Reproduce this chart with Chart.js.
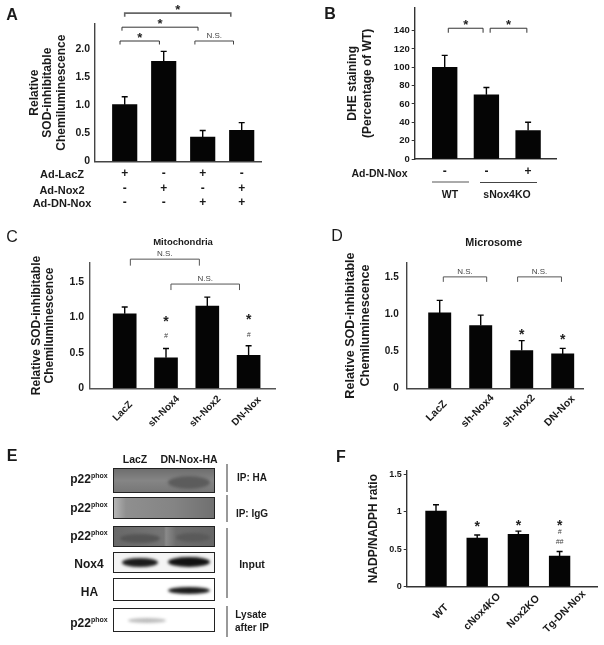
<!DOCTYPE html>
<html>
<head>
<meta charset="utf-8">
<script src="https://cdn.jsdelivr.net/npm/chart.js@4"></script>
<style>
  html, body { margin: 0; padding: 0; background: #fff; }
  #fig { position: relative; width: 604px; height: 645px; overflow: hidden; filter: blur(0.45px);
         font-family: "Liberation Sans", Arial, sans-serif; color: #1a1a1a; }
  #fig canvas { position: absolute; }
  .t { position: absolute; white-space: nowrap; transform: translate(-50%, -50%); font-weight: bold; }
  .l { position: absolute; background: #333; }
  .blot { position: absolute; left: 113px; width: 102px; box-sizing: border-box; border: 1px solid #222; overflow: hidden; }
  .band { position: absolute; border-radius: 50%; filter: blur(1.5px); }
  sup { font-size: 7px; line-height: 0; }
</style>
</head>
<body>
<div id="fig"></div>
<script>
// Panel A
const aValues = [1.01, 1.78, 0.43, 0.55];
const aErrors = [0.14, 0.18, 0.12, 0.14];
const aLacZ = ["+", "-", "+", "-"];
const aNox2 = ["-", "+", "-", "+"];
const aDnNox = ["-", "-", "+", "+"];
const aYTicks = [0, 0.5, 1, 1.5, 2];
const aYLabels = ["0", "0.5", "1.0", "1.5", "2.0"];

// Panel B
const bValues = [100, 70, 31];
const bErrors = [13, 8, 9];
const bDnNox = ["-", "-", "+"];
const bYTicks = [0, 20, 40, 60, 80, 100, 120, 140];

// Panel C
const cCategories = ["LacZ", "sh-Nox4", "sh-Nox2", "DN-Nox"];
const cValues = [1.05, 0.43, 1.16, 0.465];
const cErrors = [0.095, 0.13, 0.125, 0.135];
const cYTicks = [0, 0.5, 1, 1.5];
const cYLabels = ["0", "0.5", "1.0", "1.5"];

// Panel D
const dCategories = ["LacZ", "sh-Nox4", "sh-Nox2", "DN-Nox"];
const dValues = [1.02, 0.85, 0.51, 0.465];
const dErrors = [0.17, 0.14, 0.135, 0.075];
const dYTicks = [0, 0.5, 1, 1.5];
const dYLabels = ["0", "0.5", "1.0", "1.5"];

// Panel F
const fCategories = ["WT", "cNox4KO", "Nox2KO", "Tg-DN-Nox"];
const fValues = [1.01, 0.65, 0.70, 0.41];
const fErrors = [0.085, 0.04, 0.043, 0.06];
const fYTicks = [0, 0.5, 1, 1.5];
const fYLabels = ["0", "0.5", "1", "1.5"];

const fig = document.getElementById("fig");
const FONT = '"Liberation Sans", Arial, sans-serif';
const BLACK = "#050505";

// error bars, significance brackets and marks, all placed through the scales
const extras = {
  id: "extras",
  beforeDraw(chart, args, opts) {
    // the slanted labels sit centred under their bars, not end-aligned like Chart.js does
    if (!opts.slant) return;
    const x = chart.scales.x;
    x.getLabelItems().forEach((item, i) => {
      item.textOffset = 0;
      item.options.textAlign = "center";
      item.options.textBaseline = "middle";
      item.options.translation = [x.getPixelForValue(i) + opts.slant[0], x.top + opts.slant[1]];
    });
  },
  afterDatasetsDraw(chart, args, opts) {
    const { ctx } = chart;
    const x = chart.scales.x, y = chart.scales.y;
    ctx.save();
    ctx.strokeStyle = BLACK;
    ctx.lineWidth = 1.4;
    opts.values.forEach((v, i) => {
      const px = x.getPixelForValue(i);
      const top = y.getPixelForValue(v + opts.errors[i]);
      ctx.beginPath();
      ctx.moveTo(px, y.getPixelForValue(v));
      ctx.lineTo(px, top);
      ctx.moveTo(px - 3, top);
      ctx.lineTo(px + 3, top);
      ctx.stroke();
    });
    (opts.brackets || []).forEach((b) => {
      const x0 = x.getPixelForValue(b.from), x1 = x.getPixelForValue(b.to);
      const py = y.getPixelForValue(b.y);
      ctx.strokeStyle = b.color || "#333";
      ctx.lineWidth = b.width || 1;
      ctx.beginPath();
      ctx.moveTo(x0, py + (b.drop || 3.5));
      ctx.lineTo(x0, py);
      ctx.lineTo(x1, py);
      ctx.lineTo(x1, py + (b.drop || 3.5));
      ctx.stroke();
      ctx.textAlign = "center";
      ctx.textBaseline = "middle";
      if (b.text === "*") {
        ctx.fillStyle = "#222";
        ctx.font = "bold 13px " + FONT;
        ctx.fillText("*", (x0 + x1) / 2, py - 2.5);
      } else {
        ctx.fillStyle = "#444";
        ctx.font = "8px " + FONT;
        ctx.fillText(b.text, (x0 + x1) / 2, py - 5);
      }
    });
    (opts.marks || []).forEach((m) => {
      const px = x.getPixelForValue(m.bar), py = y.getPixelForValue(m.y);
      ctx.textAlign = "center";
      ctx.textBaseline = "middle";
      if (m.text === "*") {
        ctx.fillStyle = "#222";
        ctx.font = "bold 14px " + FONT;
        ctx.fillText("*", px, py + 3);
      } else {
        ctx.fillStyle = "#444";
        ctx.font = "italic 7px " + FONT;
        ctx.fillText(m.text, px, py);
      }
    });
    ctx.restore();
  },
};

function makePanel(p) {
  const c = document.createElement("canvas");
  c.style.left = p.box[0] + "px";
  c.style.top = p.box[1] + "px";
  c.width = p.box[2];
  c.height = p.box[3];
  fig.appendChild(c);
  const step = p.step;
  new Chart(c, {
    type: "bar",
    data: {
      datasets: [{
        data: p.values.map((v, i) => ({ x: i, y: v })),
        backgroundColor: BLACK,
        barThickness: p.barWidth,
      }],
    },
    plugins: [extras],
    options: {
      responsive: false,
      animation: false,
      layout: { padding: { top: p.plot.top - p.box[1], right: p.box[0] + p.box[2] - p.plot.right } },
      plugins: {
        legend: { display: false },
        tooltip: { enabled: false },
        extras: { values: p.values, errors: p.errors, brackets: p.brackets, marks: p.marks, slant: p.slant },
      },
      scales: {
        x: {
          type: "linear",
          offset: false,
          min: -(p.firstBar - p.plot.left) / step,
          max: (p.plot.right - p.firstBar) / step,
          afterBuildTicks: (s) => { s.ticks = p.values.map((_, i) => ({ value: i })); },
          afterFit: (s) => { s.height = p.box[1] + p.box[3] - p.plot.base; },
          border: { color: p.axisColor || "#333", width: 1.4 },
          grid: { drawOnChartArea: false, drawTicks: false, offset: false },
          ticks: {
            autoSkip: false,
            color: "#1a1a1a",
            minRotation: p.slant ? 45 : 0,
            maxRotation: p.slant ? 45 : 0,
            padding: p.xPad,
            font: { family: FONT, weight: "bold", size: p.xFont, lineHeight: p.xLine || 1.2 },
            callback: (v, i) => p.xLabels(i),
          },
        },
        y: {
          min: 0,
          max: p.yMax,
          afterBuildTicks: (s) => { s.ticks = p.yTicks.map((t) => ({ value: t })); },
          afterFit: (s) => { s.width = p.plot.left - p.box[0]; },
          border: { color: p.axisColor || "#333", width: 1.4 },
          grid: { drawOnChartArea: false, drawTicks: !!p.yTickLen, tickLength: p.yTickLen || 0, color: "#333" },
          ticks: {
            autoSkip: false,
            color: "#1a1a1a",
            padding: p.yPad,
            font: { family: FONT, weight: "bold", size: p.yFont },
            callback: (v, i) => p.yLabels[i],
          },
          title: {
            display: true,
            text: p.title,
            color: "#1a1a1a",
            padding: { top: p.titleX - p.box[0] - p.titleLine / 2, bottom: 0 },
            font: { family: FONT, weight: "bold", size: p.titleFont, lineHeight: p.titleLine + "px" },
          },
        },
      },
    },
  });
}

makePanel({
  box: [0, 0, 300, 218],
  plot: { left: 95, right: 261, top: 24, base: 161.3 },
  firstBar: 124.7, step: 39, barWidth: 24.5,
  values: aValues, errors: aErrors,
  yMax: 2.447, yTicks: aYTicks, yLabels: aYLabels, yPad: 5, yFont: 10.5,
  xLabels: (i) => [aLacZ[i], aNox2[i], aDnNox[i]], xFont: 12, xLine: 1.2, xPad: 5.5,
  axisColor: "#444",
  title: ["Relative", "SOD-inhibitable", "Chemiluminescence"], titleX: 34.5, titleLine: 13.4, titleFont: 12,
  brackets: [
    { from: -0.12, to: 0.89, y: 2.144, text: "*" },
    { from: 1.8, to: 2.79, y: 2.144, text: "N.S.", color: "#444" },
    { from: -0.07, to: 1.88, y: 2.39, text: "*" },
    { from: 0, to: 2.72, y: 2.64, text: "*", color: "#666", width: 1.6 },
  ],
});

makePanel({
  box: [300, 0, 304, 218],
  plot: { left: 414.7, right: 556, top: 7, base: 159 },
  firstBar: 444.7, step: 41.7, barWidth: 24.7,
  values: bValues, errors: bErrors,
  yMax: 165, yTicks: bYTicks, yLabels: bYTicks.map(String), yPad: 2, yFont: 9.5, yTickLen: 3,
  xLabels: (i) => bDnNox[i], xFont: 12, xPad: 5.5,
  axisColor: "#333",
  title: ["DHE staining", "(Percentage of WT)"], titleX: 353, titleLine: 15, titleFont: 12,
  brackets: [
    { from: 0.086, to: 0.92, y: 142.6, text: "*", drop: 4.5 },
    { from: 1.09, to: 1.97, y: 142.6, text: "*", drop: 4.5 },
  ],
});

makePanel({
  box: [0, 218, 300, 218],
  plot: { left: 90, right: 275, top: 262.7, base: 388.3 },
  firstBar: 124.7, step: 41.3, barWidth: 23,
  values: cValues, errors: cErrors,
  yMax: 1.77, yTicks: cYTicks, yLabels: cYLabels, yPad: 6, yFont: 10.5,
  xLabels: (i) => cCategories[i], xFont: 10, xPad: 4, slant: [-2, 23],
  axisColor: "#555",
  title: ["Relative SOD-inhibitable", "Chemiluminescence"], titleX: 37, titleLine: 13, titleFont: 12,
  brackets: [
    { from: 0.137, to: 1.808, y: 1.82, text: "N.S.", color: "#555", drop: 6.5 },
    { from: 1.12, to: 2.78, y: 1.469, text: "N.S.", color: "#555", drop: 6 },
  ],
  marks: [
    { bar: 1, y: 0.97, text: "*" }, { bar: 1, y: 0.73, text: "#" },
    { bar: 3, y: 1.0, text: "*" }, { bar: 3, y: 0.75, text: "#" },
  ],
});

makePanel({
  box: [300, 218, 304, 218],
  plot: { left: 406.7, right: 583, top: 262.7, base: 388.3 },
  firstBar: 439.7, step: 41, barWidth: 22.3,
  values: dValues, errors: dErrors,
  yMax: 1.7, yTicks: dYTicks, yLabels: dYLabels, yPad: 8, yFont: 10,
  xLabels: (i) => dCategories[i], xFont: 10.5, xPad: 4, slant: [-3, 22.7],
  axisColor: "#444",
  title: ["Relative SOD-inhibitable", "Chemiluminescence"], titleX: 351, titleLine: 14.5, titleFont: 12.6,
  brackets: [
    { from: 0.088, to: 1.146, y: 1.508, text: "N.S.", color: "#555", drop: 5 },
    { from: 1.9, to: 2.97, y: 1.508, text: "N.S.", color: "#555", drop: 5 },
  ],
  marks: [{ bar: 2, y: 0.766, text: "*" }, { bar: 3, y: 0.69, text: "*" }],
});

makePanel({
  box: [300, 440, 304, 205],
  plot: { left: 406.7, right: 597, top: 470.7, base: 586.7 },
  firstBar: 436, step: 41.2, barWidth: 20.7,
  values: fValues, errors: fErrors,
  yMax: 1.55, yTicks: fYTicks, yLabels: fYLabels, yPad: 2, yFont: 9, yTickLen: 3,
  xLabels: (i) => fCategories[i], xFont: 10.5, xPad: 4, slant: [5, 25],
  axisColor: "#333",
  title: ["NADP/NADPH ratio"], titleX: 374, titleLine: 13, titleFont: 12,
  marks: [
    { bar: 1, y: 0.837, text: "*" }, { bar: 2, y: 0.845, text: "*" }, { bar: 3, y: 0.845, text: "*" },
    { bar: 3, y: 0.734, text: "#" }, { bar: 3, y: 0.6, text: "##" },
  ],
});

// free text on top of the charts: [text, x, y, size, weight]
const labels = [
  ["A", 12, 15, 16, "bold"], ["B", 330, 14, 16, "bold"], ["C", 12, 236.7, 16, "normal"],
  ["D", 337, 235.7, 16, "normal"], ["E", 12, 455.7, 16, "bold"], ["F", 341, 456.7, 16, "bold"],
  ["Ad-LacZ", 62, 174.3, 11, "bold"], ["Ad-Nox2", 62, 189.7, 11, "bold"], ["Ad-DN-Nox", 62, 203, 11, "bold"],
  ["Ad-DN-Nox", 379.5, 173.3, 10.5, "bold"], ["WT", 450, 194, 10.5, "bold"], ["sNox4KO", 507, 194, 10.5, "bold"],
  ["Mitochondria", 183, 240.7, 9.5, "bold"], ["Microsome", 493.7, 241.7, 10.8, "bold"],
  ["LacZ", 135, 459, 10.5, "bold"], ["DN-Nox-HA", 189, 459, 10.5, "bold"],
  ["Nox4", 89, 564, 12, "bold"], ["HA", 89.5, 591.7, 12, "bold"],
  ["IP: HA", 252, 476.7, 10, "bold"], ["IP: IgG", 252, 512.7, 10, "bold"], ["Input", 252, 564, 10.5, "bold"],
  ["Lysate", 251, 614, 10, "bold"], ["after IP", 252, 627, 10, "bold"],
];
labels.forEach(([text, x, y, size, weight]) => {
  const d = document.createElement("div");
  d.className = "t";
  d.textContent = text;
  d.style.cssText = `left:${x}px;top:${y}px;font-size:${size}px;font-weight:${weight}`;
  fig.appendChild(d);
});

[479, 508, 535.7, 623].forEach((y) => {
  const d = document.createElement("div");
  d.className = "t";
  d.innerHTML = "p22<sup>phox</sup>";
  d.style.cssText = `left:89px;top:${y}px;font-size:12px`;
  fig.appendChild(d);
});

// group rules under panel B and the bracket rules beside the blots: [x, y, w, h, colour]
const rules = [
  [432, 181, 37, 2.2, "#aaa"], [480, 181.5, 57, 1.2, "#444"],
  [226, 464, 1.6, 28, "#999"], [226, 495, 1.6, 27, "#999"], [226, 528, 1.6, 70, "#999"], [226, 606, 1.6, 31, "#999"],
];
rules.forEach(([x, y, w, h, col]) => {
  const d = document.createElement("div");
  d.className = "l";
  d.style.cssText = `left:${x}px;top:${y}px;width:${w}px;height:${h}px;background:${col}`;
  fig.appendChild(d);
});

// panel E blots: [top, height, background, bands [left, top, w, h, colour]]
const blots = [
  [468, 25, "linear-gradient(#6e6e6e,#858585 50%,#777)", [[54, 7, 42, 13, "#5c5c5c"]]],
  [497, 22, "linear-gradient(90deg,#b5b5b5,#8f8f8f 12%,#848484 60%,#707070)", []],
  [526, 21, "linear-gradient(90deg,#686868,#757575 50%,#8a8a8a 52%,#6d6d6d 62%,#666)", [[6, 7, 40, 9, "#555"], [62, 6, 34, 9, "#5a5a5a"]]],
  [552, 21, "#f4f4f4", [[8, 5, 36, 9, "#1c1c1c"], [54, 4, 42, 10, "#111"]]],
  [578, 23, "#fff", [[54, 8, 42, 7, "#1a1a1a"]]],
  [608, 24, "#fff", [[14, 9, 38, 5, "#bdbdbd"]]],
];
blots.forEach(([top, h, bg, bands]) => {
  const d = document.createElement("div");
  d.className = "blot";
  d.style.top = top + "px";
  d.style.height = h + "px";
  d.style.background = bg;
  bands.forEach(([l, t, w, bh, col]) => {
    const b = document.createElement("div");
    b.className = "band";
    b.style.cssText = `left:${l}px;top:${t}px;width:${w}px;height:${bh}px;background:${col}`;
    d.appendChild(b);
  });
  fig.appendChild(d);
});
</script>
</body>
</html>
